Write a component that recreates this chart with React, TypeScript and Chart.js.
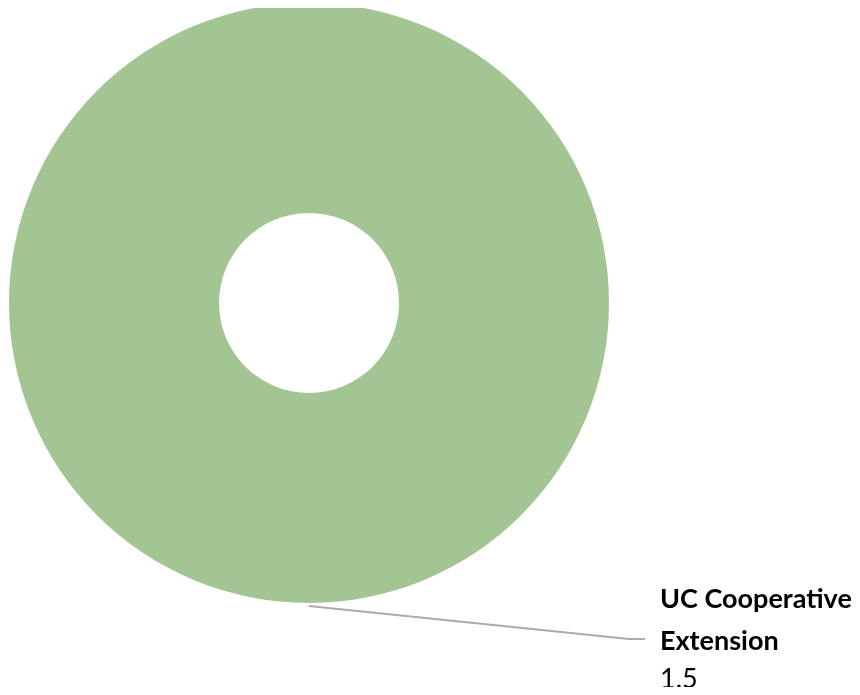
import React, { useEffect, useRef } from "react";
import { Chart, registerables } from "chart.js";

Chart.register(...registerables);

const categories = ["UC Cooperative Extension"];
const values = [1.5];
const colors = ["#A3C594"];

const labelPlugin = {
  id: "leaderLabel",
  afterDraw(chart: any) {
    const ctx = chart.ctx;
    const meta = chart.getDatasetMeta(0);
    const arc = meta.data[0];
    if (!arc) return;
    const cx = arc.x;
    const cy = arc.y;
    const r = arc.outerRadius;
    ctx.save();
    // leader line from bottom of ring
    ctx.strokeStyle = "#ABABAB";
    ctx.lineWidth = 2;
    ctx.beginPath();
    ctx.moveTo(cx, cy + r + 3);
    ctx.lineTo(cx + 320, cy + r + 36);
    ctx.lineTo(cx + 336, cy + r + 36);
    ctx.stroke();

    const tx = cx + 351;
    ctx.fillStyle = "#000000";
    ctx.textAlign = "left";
    ctx.textBaseline = "alphabetic";
    ctx.font = "bold 27px Lato";
    // wrap category text
    const words = categories[0].split(" ");
    const lines: string[] = [];
    let cur = "";
    for (const w of words) {
      const test = cur ? cur + " " + w : w;
      if (ctx.measureText(test).width > 200 && cur) {
        lines.push(cur);
        cur = w;
      } else cur = test;
    }
    if (cur) lines.push(cur);
    let y = cy + r + 5;
    lines.forEach((l) => {
      ctx.fillText(l, tx, y);
      y += 42;
    });
    ctx.font = "27px Lato";
    ctx.fillText(String(values[0]), tx, y - 4);
    ctx.restore();
  },
};

export default function App() {
  const ref = useRef<HTMLCanvasElement>(null);
  useEffect(() => {
    if (!ref.current) return;
    const chart = new Chart(ref.current, {
      type: "doughnut",
      data: {
        labels: categories,
        datasets: [
          {
            data: values,
            backgroundColor: colors,
            borderWidth: 0,
          },
        ],
      },
      options: {
        responsive: false,
        animation: false,
        cutout: "30%",
        layout: { padding: { left: 9, top: 3, right: 251, bottom: 92 } },
        plugins: {
          legend: { display: false },
          tooltip: { enabled: false },
          title: { display: false },
        },
      },
      plugins: [labelPlugin],
    });
    return () => chart.destroy();
  }, []);
  return (
    <div style={{ margin: -8, width: 860, height: 695, background: "#fff" }}>
      <canvas ref={ref} width={860} height={695} style={{ display: "block" }} />
    </div>
  );
}
